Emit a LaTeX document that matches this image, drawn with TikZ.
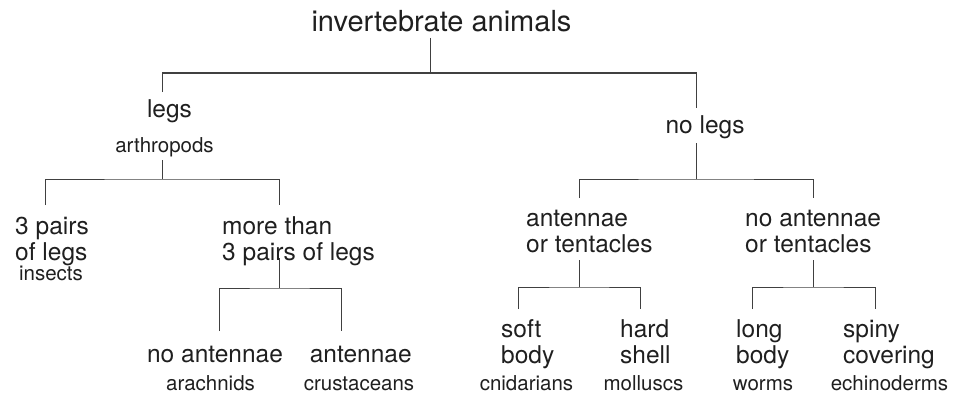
\documentclass[tikz,border=0pt]{standalone}
\usepackage{fontspec}
\setmainfont{TeX Gyre Heros}
\usepackage{tikz}
\usetikzlibrary{positioning}

\begin{document}
\begin{tikzpicture}[x=1pt,y=-1pt,
  big/.style={font=\fontsize{24.5}{26}\selectfont,text=black!88,inner sep=0pt},
  small/.style={font=\fontsize{20.5}{22}\selectfont,text=black!88,inner sep=0pt},
  twoline/.style={big,align=left,anchor=base west},
  link/.style={draw=black!75,line width=1pt}]
\useasboundingbox (0,0) rectangle (958,396);
\node[big,font=\fontsize{29}{31}\selectfont,anchor=base] (root) at (441.5,32) {invertebrate animals};
\node[big,anchor=base] (legs) at (169.5,117) {legs};
\node[small,anchor=base] (arthro) at (164.5,152) {arthropods};
\node[big,anchor=base] (nolegs) at (705,133) {no legs};
\node[twoline] (pairs3) at (15,260) {3 pairs\\of legs};
\node[small,anchor=base] (insects) at (51,280) {insects};
\node[twoline] (more3) at (222,260) {more than\\3 pairs of legs};
\node[big,anchor=base] (noant) at (215,362) {no antennae};
\node[small,anchor=base] (arach) at (210.5,390) {arachnids};
\node[big,anchor=base] (ant) at (360.7,362) {antennae};
\node[small,anchor=base] (crust) at (359,390) {crustaceans};
\node[twoline] (antent) at (526,252) {antennae\\or tentacles};
\node[twoline] (noantent) at (745,252) {no antennae\\or tentacles};
\node[twoline] (soft) at (501,363) {soft\\body};
\node[small,anchor=base] (cnid) at (526.5,390) {cnidarians};
\node[twoline] (hard) at (620,363) {hard\\shell};
\node[small,anchor=base] (moll) at (643.5,390) {molluscs};
\node[twoline] (long) at (736,363) {long\\body};
\node[small,anchor=base] (worms) at (763,390) {worms};
\node[twoline] (spiny) at (843,363) {spiny\\covering};
\node[small,anchor=base] (echino) at (889.5,390) {echinoderms};

\coordinate (rootS) at (430,38);
\coordinate (rootJ) at (430,73);
\coordinate (legsT) at (162,92);
\coordinate (nolegsT) at (696,108);
\draw[link] (rootS) -- (rootJ);
\draw[link] (legsT) |- (rootJ) -| (nolegsT);

\coordinate (arthroS) at (162,160);
\coordinate (arthroJ) at (162,179);
\coordinate (pairs3T) at (45,205);
\coordinate (more3T) at (279,205);
\draw[link] (arthroS) -- (arthroJ);
\draw[link] (pairs3T) |- (arthroJ) -| (more3T);

\coordinate (more3S) at (279,258);
\coordinate (more3J) at (279,288);
\coordinate (noantT) at (219,331);
\coordinate (antT) at (341,331);
\draw[link] (more3S) -- (more3J);
\draw[link] (noantT) |- (more3J) -| (antT);

\coordinate (nolegsS) at (696,143);
\coordinate (nolegsJ) at (696,179);
\coordinate (antentT) at (579,198);
\coordinate (noantentT) at (813,198);
\draw[link] (nolegsS) -- (nolegsJ);
\draw[link] (antentT) |- (nolegsJ) -| (noantentT);

\coordinate (antentS) at (579,260);
\coordinate (antentJ) at (579,287);
\coordinate (softT) at (518,309);
\coordinate (hardT) at (640,309);
\draw[link] (antentS) -- (antentJ);
\draw[link] (softT) |- (antentJ) -| (hardT);

\coordinate (noantentS) at (813,260);
\coordinate (noantentJ) at (813,287);
\coordinate (longT) at (752,309);
\coordinate (spinyT) at (875,309);
\draw[link] (noantentS) -- (noantentJ);
\draw[link] (longT) |- (noantentJ) -| (spinyT);
\end{tikzpicture}
\end{document}
